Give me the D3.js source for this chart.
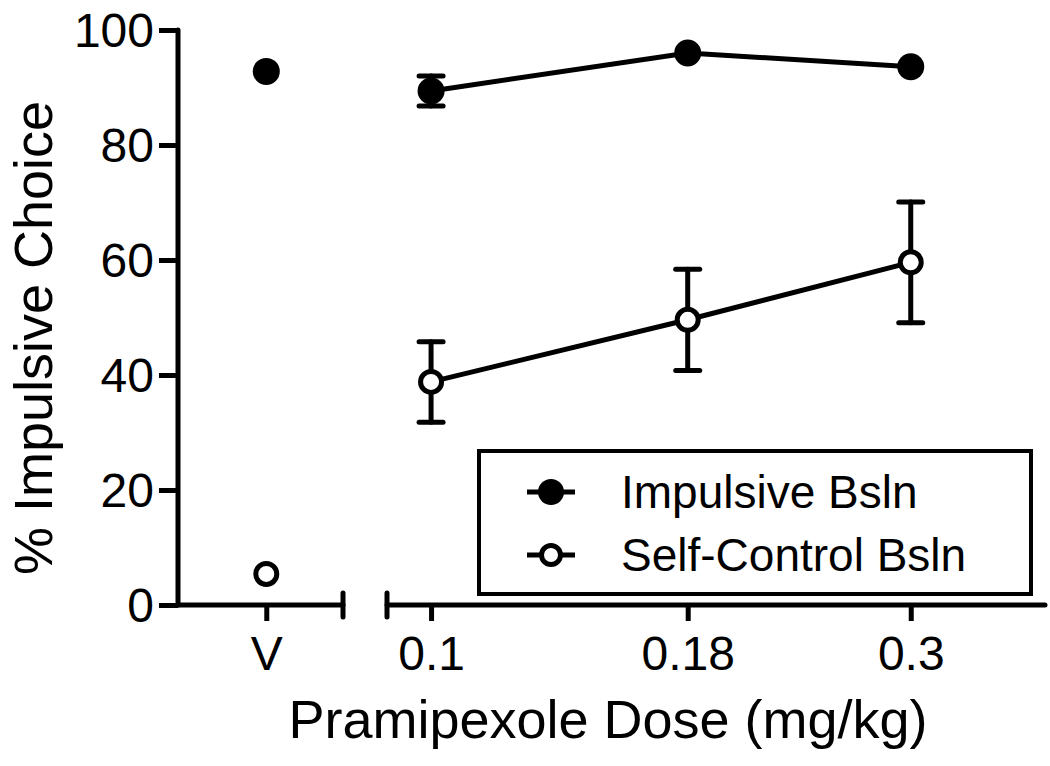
<!DOCTYPE html>
<html>
<head>
<meta charset="utf-8">
<script src="https://cdn.jsdelivr.net/npm/d3@7"></script>
<style>
	body { margin: 0; background: #fff; }
	svg text { font-family: "Liberation Sans", Arial, sans-serif; fill: #000; }
</style>
</head>
<body>
<svg id="chart" width="1050" height="766"></svg>
<script>
	// data
	var doses = [ 0.1, 0.18, 0.3 ];
	var vehicleLabel = [ "V" ];
	var yTicks = [ 0, 20, 40, 60, 80, 100 ];

	var impulsiveVehicle = 92.8;
	var impulsiveMean = [ 89.4, 96.0, 93.6 ];
	var impulsiveErr = [ 2.6, 0, 0 ];

	var selfVehicle = 5.4;
	var selfMean = [ 38.8, 49.6, 59.6 ];
	var selfErr = [ 7.0, 8.8, 10.5 ];

	var seriesNames = [ "Impulsive Bsln", "Self-Control Bsln" ];

	var svg = d3.select("#chart");
	var axisY = 605, axisX = 178;

	var yScale = d3.scaleLinear().domain([ 0, 100 ]).range([ axisY, 30 ]);
	var xVehicle = d3.scalePoint().domain(vehicleLabel).range([ axisX, 343 ]).padding(0.5).align(0.535);
	var xDose = d3.scaleLog().domain([ 0.0904, 0.408 ]).range([ 387, 1045 ]);

	var series = [ {
		name : seriesNames[0],
		vehicle : impulsiveVehicle,
		points : doses.map(function(d, i) {
			return { dose : d, mean : impulsiveMean[i], err : impulsiveErr[i] };
		}),
		fill : "#000"
	}, {
		name : seriesNames[1],
		vehicle : selfVehicle,
		points : doses.map(function(d, i) {
			return { dose : d, mean : selfMean[i], err : selfErr[i] };
		}),
		fill : "#fff"
	} ];

	// axes
	var yAxis = d3.axisLeft(yScale).tickValues(yTicks).tickSize(19).tickPadding(5);
	var gy = svg.append("g").attr("transform", "translate(" + axisX + ",0)").call(yAxis);
	gy.select(".domain").remove();
	gy.selectAll(".tick line").attr("stroke", "#000").attr("stroke-width", 5);
	gy.selectAll(".tick text").style("font-size", "48px").attr("dy", "0.35em");

	var gxv = svg.append("g").attr("transform", "translate(0," + axisY + ")")
		.call(d3.axisBottom(xVehicle).tickSize(16).tickPadding(14));
	var gxd = svg.append("g").attr("transform", "translate(0," + axisY + ")")
		.call(d3.axisBottom(xDose).tickValues(doses).tickFormat(d3.format("")).tickSize(16).tickPadding(14));
	[ gxv, gxd ].forEach(function(g) {
		g.select(".domain").remove();
		g.selectAll(".tick line").attr("stroke", "#000").attr("stroke-width", 5);
		g.selectAll(".tick text").style("font-size", "48px").attr("dy", "0.72em");
	});

	var axisStyle = function(sel) {
		return sel.attr("stroke", "#000").attr("stroke-width", 5).attr("stroke-linecap", "round");
	};
	// y axis line
	axisStyle(svg.append("line").attr("x1", axisX).attr("x2", axisX).attr("y1", yScale(100)).attr("y2", axisY));
	// broken x axis
	var vr = xVehicle.range(), dr = xDose.range();
	axisStyle(svg.append("line").attr("x1", vr[0]).attr("x2", vr[1]).attr("y1", axisY).attr("y2", axisY));
	axisStyle(svg.append("line").attr("x1", vr[1]).attr("x2", vr[1]).attr("y1", axisY - 12).attr("y2", axisY + 12));
	axisStyle(svg.append("line").attr("x1", dr[0]).attr("x2", dr[1]).attr("y1", axisY).attr("y2", axisY));
	axisStyle(svg.append("line").attr("x1", dr[0]).attr("x2", dr[0]).attr("y1", axisY - 12).attr("y2", axisY + 12));

	// axis titles
	svg.append("text").attr("x", 608).attr("y", 738).attr("text-anchor", "middle")
		.style("font-size", "54px").text("Pramipexole Dose (mg/kg)");
	svg.append("text").attr("transform", "translate(52,338) rotate(-90)").attr("text-anchor", "middle")
		.style("font-size", "54px").text("% Impulsive Choice");

	// lines
	var line = d3.line().x(function(d) {
		return xDose(d.dose);
	}).y(function(d) {
		return yScale(d.mean);
	});

	var capW = 12;
	series.forEach(function(s) {
		var g = svg.append("g");
		g.append("path").datum(s.points).attr("d", line).attr("fill", "none")
			.attr("stroke", "#000").attr("stroke-width", 5);
		var eb = g.selectAll(".err").data(s.points.filter(function(p) {
			return p.err > 0;
		})).enter().append("g");
		eb.append("line").attr("x1", function(d) { return xDose(d.dose); })
			.attr("x2", function(d) { return xDose(d.dose); })
			.attr("y1", function(d) { return yScale(d.mean + d.err); })
			.attr("y2", function(d) { return yScale(d.mean - d.err); });
		eb.append("line").attr("x1", function(d) { return xDose(d.dose) - capW; })
			.attr("x2", function(d) { return xDose(d.dose) + capW; })
			.attr("y1", function(d) { return yScale(d.mean + d.err); })
			.attr("y2", function(d) { return yScale(d.mean + d.err); });
		eb.append("line").attr("x1", function(d) { return xDose(d.dose) - capW; })
			.attr("x2", function(d) { return xDose(d.dose) + capW; })
			.attr("y1", function(d) { return yScale(d.mean - d.err); })
			.attr("y2", function(d) { return yScale(d.mean - d.err); });
		eb.selectAll("line").attr("stroke", "#000").attr("stroke-width", 5).attr("stroke-linecap", "round");

		var pts = s.points.map(function(p) {
			return [ xDose(p.dose), yScale(p.mean) ];
		});
		pts.push([ xVehicle("V"), yScale(s.vehicle) ]);
		g.selectAll("circle").data(pts).enter().append("circle")
			.attr("cx", function(d) { return d[0]; })
			.attr("cy", function(d) { return d[1]; })
			.attr("r", s.fill == "#000" ? 13.5 : 10.5)
			.attr("fill", s.fill)
			.attr("stroke", "#000").attr("stroke-width", s.fill == "#000" ? 0 : 5);
	});

	// legend
	var legend = svg.append("g");
	legend.append("rect").attr("x", 479).attr("y", 451).attr("width", 552).attr("height", 143)
		.attr("fill", "#fff").attr("stroke", "#000").attr("stroke-width", 4);
	var li = legend.selectAll(".item").data(series).enter().append("g")
		.attr("transform", function(d, i) {
			return "translate(0," + (492 + i * 63) + ")";
		});
	li.append("line").attr("x1", 527).attr("x2", 575).attr("y1", 0).attr("y2", 0)
		.attr("stroke", "#000").attr("stroke-width", 5);
	li.append("circle").attr("cx", 551).attr("cy", 0)
		.attr("r", function(d) { return d.fill == "#000" ? 13 : 9.5; })
		.attr("fill", function(d) { return d.fill; })
		.attr("stroke", "#000").attr("stroke-width", function(d) { return d.fill == "#000" ? 0 : 5; });
	li.append("text").attr("x", 621).attr("y", 16).style("font-size", "46px")
		.text(function(d) { return d.name; });
</script>
</body>
</html>
